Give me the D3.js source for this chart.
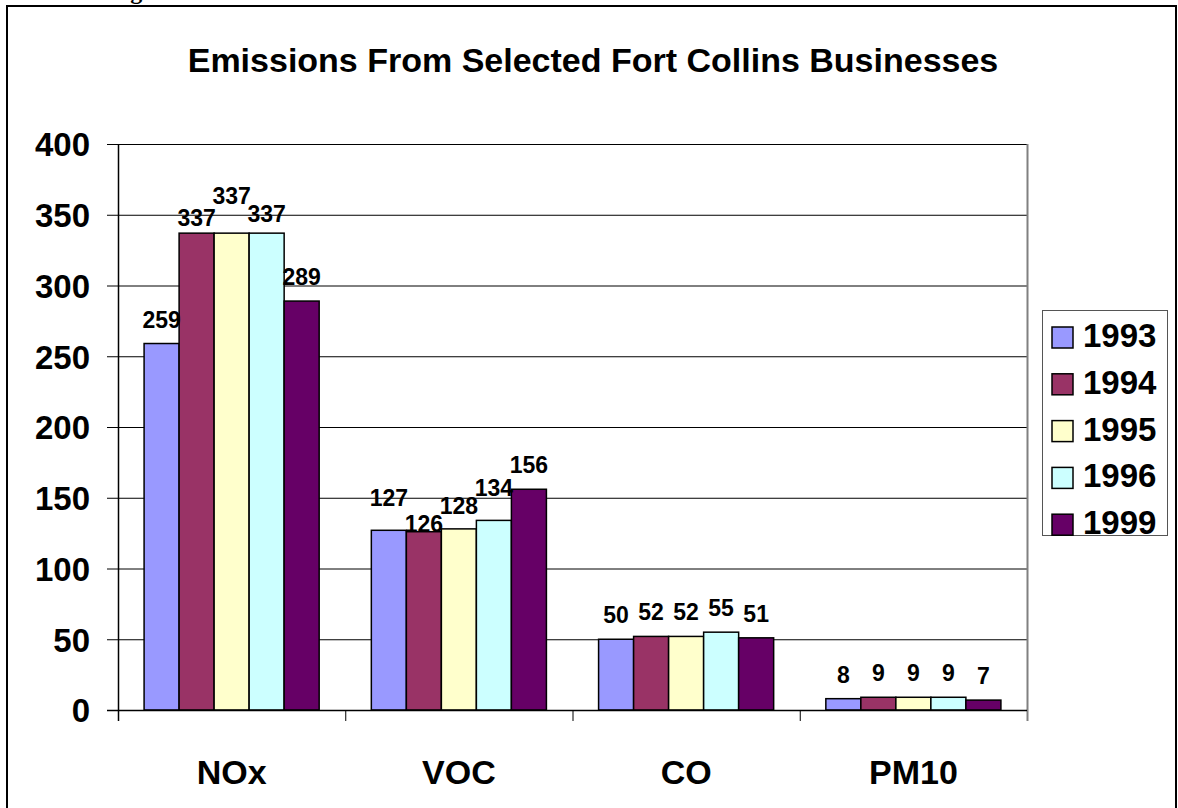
<!DOCTYPE html>
<html>
<head>
<meta charset="utf-8">
<script src="https://cdn.jsdelivr.net/npm/d3@7"></script>
<style>
  body { margin: 0; background: #fff; }
  svg { display: block; font-family: Arial, "Liberation Sans", sans-serif; }
</style>
</head>
<body>
<svg width="1178" height="808"></svg>
<script>
// chart data
var pollutants = ["NOx", "VOC", "CO", "PM10"];
var years = ["1993", "1994", "1995", "1996", "1999"];
var v1993 = [259, 127, 50, 8];
var v1994 = [337, 126, 52, 9];
var v1995 = [337, 128, 52, 9];
var v1996 = [337, 134, 55, 9];
var v1999 = [289, 156, 51, 7];
var yTicks = [0, 50, 100, 150, 200, 250, 300, 350, 400];
var colors = ["#9999FF", "#993366", "#FFFFCC", "#CCFFFF", "#660066"];

var series = [v1993, v1994, v1995, v1996, v1999];

var svg = d3.select("svg"),
    margin = {top: 144, right: 151, bottom: 98, left: 118},
    width = +svg.attr("width") - margin.left - margin.right,
    height = +svg.attr("height") - margin.top - margin.bottom;

// outer frame (and the cut off caption above it)
svg.append("text")
    .attr("x", 109)
    .attr("y", -1)
    .attr("font-family", "'Liberation Serif', 'Times New Roman', serif")
    .attr("font-weight", "bold")
    .attr("font-size", 24)
    .text("Figure");

svg.append("rect")
    .attr("x", 7).attr("y", 6)
    .attr("width", 1169).attr("height", 900)
    .attr("fill", "none")
    .attr("stroke", "#000")
    .attr("stroke-width", 2);

// title
svg.append("text")
    .attr("x", 593)
    .attr("y", 72)
    .attr("text-anchor", "middle")
    .attr("font-weight", "bold")
    .attr("font-size", 34)
    .text("Emissions From Selected Fort Collins Businesses");

var g = svg.append("g").attr("transform", "translate(" + margin.left + "," + margin.top + ")");

var x0 = d3.scaleBand().domain(pollutants).range([0, width]).padding(0);
var x1 = d3.scaleBand().domain(years).range([0, x0.bandwidth()])
    .paddingInner(0).paddingOuter(0.745);
var y = d3.scaleLinear().domain([0, 400]).range([height, 0]);
var z = d3.scaleOrdinal().domain(years).range(colors);

// gridlines
g.append("g")
    .selectAll("line")
    .data(yTicks.slice(1))
    .enter().append("line")
      .attr("x1", 0).attr("x2", width)
      .attr("y1", function(d) { return y(d) + 0.5; })
      .attr("y2", function(d) { return y(d) + 0.5; })
      .attr("stroke", "#000")
      .attr("stroke-width", 1);

// plot area right border
g.append("line")
    .attr("x1", width + 0.5).attr("x2", width + 0.5)
    .attr("y1", 0).attr("y2", height + 11)
    .attr("stroke", "#808080")
    .attr("stroke-width", 2);

// rows of data, one per pollutant
var rows = pollutants.map(function(p, i) {
  return years.map(function(yr, j) { return {cat: p, year: yr, value: series[j][i]}; });
});

var groups = g.append("g")
  .selectAll("g")
  .data(rows)
  .enter().append("g")
    .attr("transform", function(d, i) { return "translate(" + x0(pollutants[i]) + ",0)"; });

groups.selectAll("rect")
  .data(function(d) { return d; })
  .enter().append("rect")
    .attr("x", function(d) { return x1(d.year); })
    .attr("y", function(d) { return y(d.value); })
    .attr("width", x1.bandwidth())
    .attr("height", function(d) { return height - y(d.value); })
    .attr("fill", function(d) { return z(d.year); })
    .attr("stroke", "#000")
    .attr("stroke-width", 1.5);

// data labels: sit above bars, nudge apart when neighbours collide
var labelH = 18;
groups.each(function(row) {
  var pos = row.map(function(d) { return y(d.value) - 16; });
  var wide = row.map(function(d) { return String(d.value).length * 12.8; });
  for (var pass = 0; pass < 4; pass++) {
    for (var k = 1; k < row.length; k++) {
      var overlapX = (wide[k - 1] + wide[k]) / 2 > x1.step();
      var gap = Math.abs(pos[k] - pos[k - 1]);
      if (overlapX && gap < labelH) {
        var push = (labelH - gap) / 2;
        if (pos[k] <= pos[k - 1]) { pos[k] -= push; pos[k - 1] += push; }
        else { pos[k] += push; pos[k - 1] -= push; }
      }
    }
  }
  d3.select(this).selectAll("text.lbl")
    .data(row)
    .enter().append("text")
      .attr("class", "lbl")
      .attr("x", function(d) { return x1(d.year) + x1.bandwidth() / 2; })
      .attr("y", function(d, i) { return pos[i]; })
      .attr("text-anchor", "middle")
      .attr("font-weight", "bold")
      .attr("font-size", 23)
      .text(function(d) { return d.value; });
});

// y axis
var yAxis = g.append("g")
    .call(d3.axisLeft(y).tickValues(yTicks).tickSize(11).tickPadding(17));
yAxis.select(".domain").attr("stroke", "#000").attr("stroke-width", 1.5)
    .attr("d", "M0.5," + (height + 11) + "V0");
yAxis.selectAll(".tick line").attr("stroke", "#000");
yAxis.selectAll(".tick text")
    .attr("font-size", 33)
    .attr("font-weight", "bold")
    .attr("font-family", "Arial, 'Liberation Sans', sans-serif")
    .attr("fill", "#000")
    .attr("dy", "0.36em");

// x axis
var xAxis = g.append("g")
    .attr("transform", "translate(0," + height + ")")
    .call(d3.axisBottom(x0).tickSize(0).tickPadding(50));
xAxis.select(".domain").attr("stroke", "#000").attr("stroke-width", 1.5)
    .attr("d", "M-11,0.5H" + width);
xAxis.selectAll(".tick text")
    .attr("font-size", 34)
    .attr("font-weight", "bold")
    .attr("font-family", "Arial, 'Liberation Sans', sans-serif")
    .attr("fill", "#000")
    .attr("dy", "0.71em");

// category separator ticks
xAxis.append("g")
  .selectAll("line")
  .data(pollutants.slice(1))
  .enter().append("line")
    .attr("x1", function(d) { return x0(d) + 0.5; })
    .attr("x2", function(d) { return x0(d) + 0.5; })
    .attr("y1", 0).attr("y2", 11)
    .attr("stroke", "#000");

// legend
var legend = svg.append("g").attr("transform", "translate(1042,310)");
legend.append("rect")
    .attr("x", 0.5).attr("y", 0.5)
    .attr("width", 125).attr("height", 225)
    .attr("fill", "#fff")
    .attr("stroke", "#555")
    .attr("stroke-width", 1);

var items = legend.selectAll("g.item")
  .data(years)
  .enter().append("g")
    .attr("class", "item")
    .attr("transform", function(d, i) { return "translate(0," + (27 + i * 46.8) + ")"; });

items.append("rect")
    .attr("x", 10).attr("y", -10)
    .attr("width", 21).attr("height", 21)
    .attr("fill", z)
    .attr("stroke", "#000")
    .attr("stroke-width", 1.5);

items.append("text")
    .attr("x", 41)
    .attr("y", 10)
    .attr("font-size", 33)
    .attr("font-weight", "bold")
    .text(function(d) { return d; });
</script>
</body>
</html>
